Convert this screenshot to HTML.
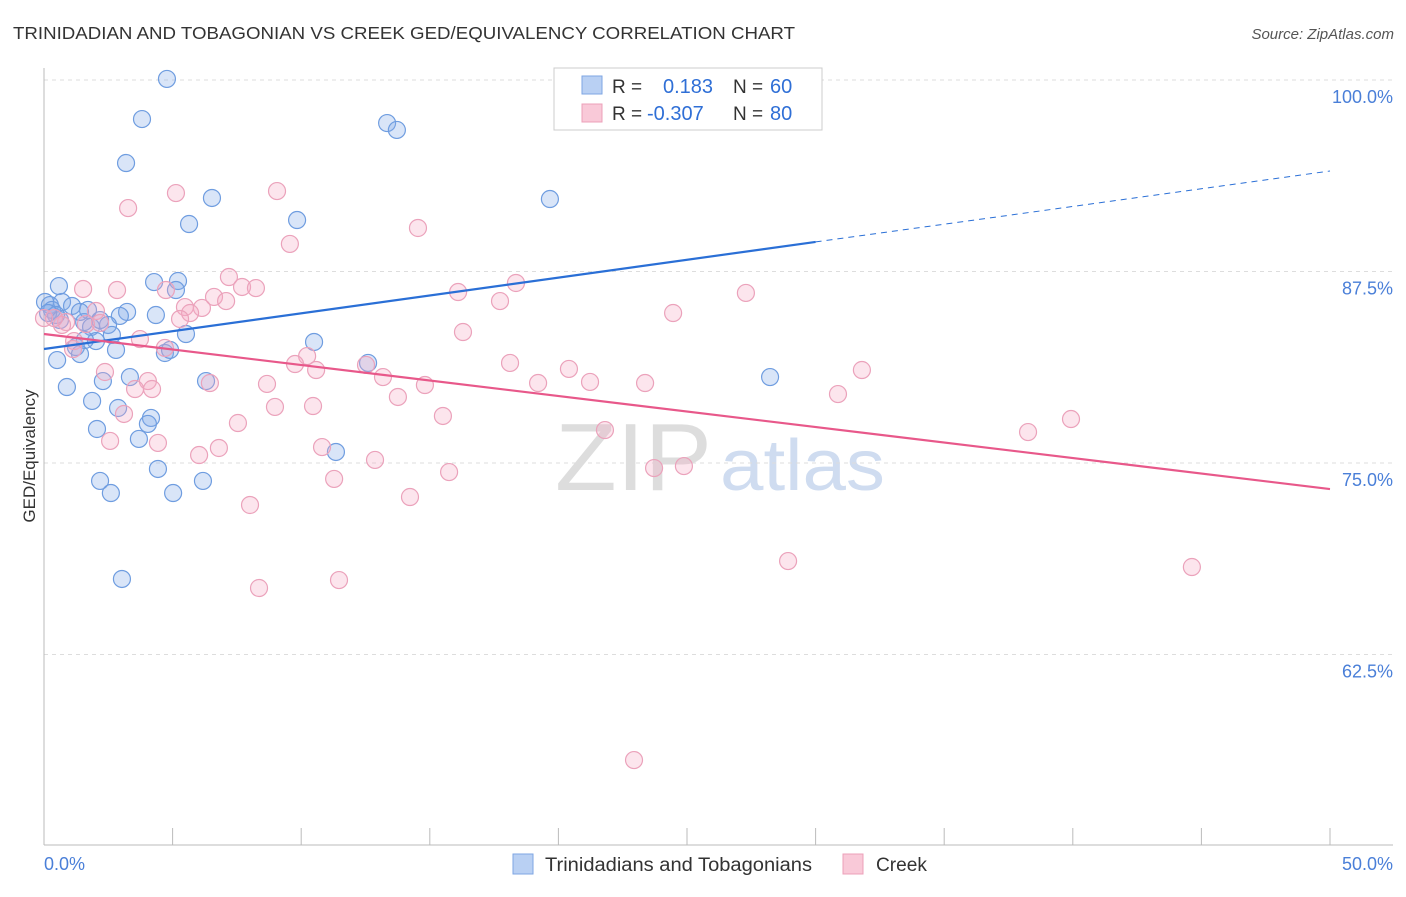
<!DOCTYPE html>
<html><head><meta charset="utf-8"><style>
body{margin:0;background:#fff;font-family:"Liberation Sans",sans-serif}
svg text{font-family:"Liberation Sans",sans-serif}
</style></head><body>
<svg id="chart" width="1406" height="892" xmlns="http://www.w3.org/2000/svg">
<text x="13" y="39" font-size="17.5" fill="#333" textLength="782" lengthAdjust="spacingAndGlyphs">TRINIDADIAN AND TOBAGONIAN VS CREEK GED/EQUIVALENCY CORRELATION CHART</text>
<text x="1394" y="39" font-size="15" fill="#555" text-anchor="end" font-style="italic">Source: ZipAtlas.com</text>
<text x="555" y="490" font-size="96" fill="#ddd" textLength="157" lengthAdjust="spacingAndGlyphs" font-family="Liberation Serif">ZIP</text>
<text x="720" y="490" font-size="72" fill="#cfdcf0" textLength="165" lengthAdjust="spacingAndGlyphs">atlas</text>
<g id="grid"></g><g id="pts"></g><g id="lines"></g>
<text transform="translate(35,456) rotate(-90)" font-size="17" fill="#333" text-anchor="middle">GED/Equivalency</text>
<text x="44" y="870" font-size="18" fill="#4a7fd8">0.0%</text>
<text x="1393" y="870" font-size="18" fill="#4a7fd8" text-anchor="end">50.0%</text>
<g>
<rect x="554" y="68" width="268" height="62" fill="#fff" stroke="#ccc"/>
<rect x="582" y="76" width="20" height="18" fill="#b9d0f3" stroke="#7ea6e3"/>
<rect x="582" y="104" width="20" height="18" fill="#f9c9d8" stroke="#eca0b9"/>
<text x="612" y="93" font-size="19" fill="#333">R =</text>
<text x="663" y="93" font-size="20" fill="#2f6fd6">0.183</text>
<text x="733" y="93" font-size="19" fill="#333">N =</text>
<text x="770" y="93" font-size="20" fill="#2f6fd6">60</text>
<text x="612" y="120" font-size="19" fill="#333">R =</text>
<text x="647" y="120" font-size="20" fill="#2f6fd6">-0.307</text>
<text x="733" y="120" font-size="19" fill="#333">N =</text>
<text x="770" y="120" font-size="20" fill="#2f6fd6">80</text>
</g>
<g>
<rect x="513" y="854" width="20" height="20" fill="#b9d0f3" stroke="#7ea6e3"/>
<text x="545" y="871" font-size="19" fill="#333" textLength="267" lengthAdjust="spacingAndGlyphs">Trinidadians and Tobagonians</text>
<rect x="843" y="854" width="20" height="20" fill="#f9c9d8" stroke="#eca0b9"/>
<text x="876" y="871" font-size="19" fill="#333" textLength="51" lengthAdjust="spacingAndGlyphs">Creek</text>
</g>
</svg>
<script>
const yTicks=[100,87.5,75,62.5];
const yTickLabels=["100.0%","87.5%","75.0%","62.5%"];
const xTicks=[0,5,10,15,20,25,30,35,40,45,50];
const blueX=[4.78,3.81,3.19,13.34,13.72,6.53,5.64,9.84,19.67,0.58,0.04,0.23,0.70,1.09,1.71,0.31,0.47,0.16,4.28,5.21,5.13,3.23,2.95,4.35,2.49,1.56,1.83,2.64,5.52,2.02,1.24,1.40,2.80,0.51,4.70,4.90,10.50,12.60,0.89,2.29,3.34,6.30,1.87,2.88,4.16,4.04,2.06,3.69,11.35,4.43,2.18,2.60,5.02,6.18,3.03,28.23,1.40,0.62,2.18,1.59];
const blueY=[100.07,97.45,94.58,97.19,96.74,92.30,90.60,90.86,92.23,86.55,85.51,85.31,85.51,85.25,84.99,84.99,84.66,84.79,86.81,86.88,86.29,84.86,84.60,84.66,84.01,84.20,83.88,83.36,83.42,82.96,82.57,82.11,82.38,81.72,82.18,82.38,82.90,81.53,79.96,80.35,80.61,80.35,79.05,78.59,77.94,77.55,77.22,76.57,75.72,74.61,73.83,73.04,73.04,73.83,67.43,80.61,84.86,84.33,84.33,83.03];
const pinkX=[22.28,5.13,9.06,3.27,14.54,9.56,7.19,18.35,1.52,2.84,7.70,8.24,4.74,16.10,27.29,6.61,7.08,17.73,5.48,6.14,5.68,5.29,2.02,24.46,0.86,2.18,0.70,16.29,3.73,1.17,1.13,4.70,10.23,9.76,18.12,10.58,12.52,31.80,2.37,20.41,21.23,23.37,13.18,8.67,4.04,14.81,6.45,19.21,3.54,4.20,30.87,13.76,10.46,8.98,15.51,7.54,3.11,2.57,4.43,6.80,21.81,38.26,39.93,10.81,6.03,12.87,15.75,11.28,23.72,24.88,14.23,8.01,28.93,44.63,11.47,8.36,22.94,1.63,0.39,0.0];
const pinkY=[99.87,92.62,92.75,91.64,90.34,89.30,87.14,86.75,86.36,86.29,86.49,86.42,86.29,86.16,86.10,85.84,85.57,85.57,85.18,85.12,84.79,84.40,84.92,84.79,84.20,84.14,84.01,83.55,83.09,82.96,82.44,82.51,81.98,81.46,81.53,81.07,81.40,81.07,80.94,81.14,80.29,80.22,80.61,80.16,80.35,80.09,80.22,80.22,79.83,79.83,79.50,79.31,78.72,78.66,78.07,77.61,78.20,76.44,76.31,75.98,77.15,77.02,77.87,76.04,75.52,75.20,74.41,73.96,74.67,74.80,72.78,72.26,68.60,68.21,67.36,66.84,55.61,84.07,84.46,84.46];
const blueLineX=[0,30,50];
const blueLineY=[82.44,89.43,94.06];
const pinkLineX=[0,50];
const pinkLineY=[83.42,73.30];
const NS="http://www.w3.org/2000/svg";
const xs=v=>44+v*25.72, ys=v=>80+(100-v)*15.32;
function mk(t,a,p){const e=document.createElementNS(NS,t);for(const k in a)e.setAttribute(k,a[k]);p.appendChild(e);return e;}
const grid=document.getElementById('grid');
yTicks.forEach((v,i)=>{
 const l=mk('line',{x1:44,x2:1393,y1:ys(v),y2:ys(v),stroke:'#ddd','stroke-dasharray':'4,4'},grid);
 
 
 const t=mk('text',{x:1393,y:ys(v)+23,'font-size':18,fill:'#4a7fd8','text-anchor':'end'},grid);
 t.textContent=yTickLabels[i];
 
 
});
const ax=mk('line',{x1:44,x2:44,y1:68,y2:845,stroke:'#bbb'},grid);


const bx=mk('line',{x1:44,x2:1393,y1:845,y2:845,stroke:'#bbb'},grid);


xTicks.forEach(v=>{const t=mk('line',{x1:xs(v),x2:xs(v),y1:828,y2:845,stroke:'#bbb'},grid);
 
 });
const pts=document.getElementById('pts');
blueX.forEach((x,i)=>{const c=mk('circle',{cx:xs(x),cy:ys(blueY[i]),r:8.5,fill:'rgba(130,168,232,0.3)',stroke:'#6f9de0','stroke-width':1.2},pts);
 
 });
pinkX.forEach((x,i)=>{const c=mk('circle',{cx:xs(x),cy:ys(pinkY[i]),r:8.5,fill:'rgba(245,170,195,0.3)',stroke:'#eba2bb','stroke-width':1.2},pts);
 
 });
const lines=document.getElementById('lines');
const b1=mk('line',{x1:xs(blueLineX[0]),y1:ys(blueLineY[0]),x2:xs(blueLineX[1]),y2:ys(blueLineY[1]),stroke:'#2a6fd6','stroke-width':2.2},lines);


const b2=mk('line',{x1:xs(blueLineX[1]),y1:ys(blueLineY[1]),x2:xs(blueLineX[2]),y2:ys(blueLineY[2]),stroke:'#2a6fd6','stroke-width':1,'stroke-dasharray':'6,5'},lines);


const p1=mk('line',{x1:xs(pinkLineX[0]),y1:ys(pinkLineY[0]),x2:xs(pinkLineX[1]),y2:ys(pinkLineY[1]),stroke:'#e8588a','stroke-width':2.2},lines);


</script>
</body></html>
